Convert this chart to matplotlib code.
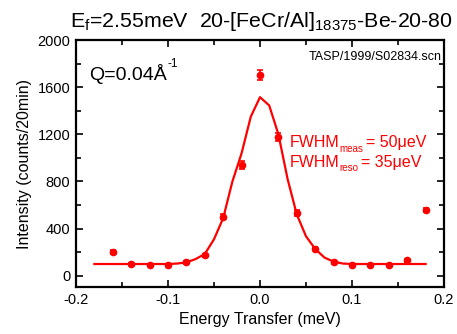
import matplotlib
matplotlib.use("Agg")
import matplotlib.pyplot as plt
from matplotlib.ticker import MultipleLocator, FuncFormatter

plt.rcParams['font.family'] = ['Liberation Sans', 'DejaVu Sans']
plt.rcParams['mathtext.fontset'] = 'custom'
plt.rcParams['mathtext.rm'] = 'Liberation Sans'
plt.rcParams['mathtext.it'] = 'Liberation Sans'
plt.rcParams['axes.unicode_minus'] = False

# Measured scan: energy transfer (meV), counts per 20 min, and errors
energy = [-0.16, -0.14, -0.12, -0.10, -0.08, -0.06, -0.04, -0.02, 0.00,
          0.02, 0.04, 0.06, 0.08, 0.10, 0.12, 0.14, 0.16, 0.18]
counts = [200, 99, 93, 93, 113, 175, 503, 940, 1705,
          1178, 531, 231, 113, 93, 93, 93, 130, 557]
errors = [16, 11, 10, 10, 11, 14, 23, 31, 42,
          35, 23, 16, 11, 10, 10, 10, 12, 20]

# Fitted line shape
fit_energy = [-0.18, -0.17, -0.16, -0.15, -0.14, -0.13, -0.12, -0.11, -0.10,
              -0.09, -0.08, -0.07, -0.06, -0.05, -0.04, -0.03, -0.02, -0.01,
              0.00, 0.01, 0.02, 0.03, 0.04, 0.05, 0.06, 0.07, 0.08, 0.09,
              0.10, 0.11, 0.12, 0.13, 0.14, 0.15, 0.16, 0.17, 0.18]
fit_counts = [100, 100, 100, 100, 100, 100, 100, 100, 100,
              104, 114, 142, 185, 310, 490, 800, 1040, 1350,
              1515, 1445, 1200, 820, 520, 335, 228, 155, 120, 104,
              100, 100, 100, 100, 100, 100, 100, 100, 100]

fwhm_meas = 50
fwhm_reso = 35

fig = plt.figure(figsize=(4.57, 3.34), dpi=100)
ax = fig.add_axes([0.1663, 0.1407, 0.8053, 0.7395])

red = '#ff0000'
ax.plot(fit_energy, fit_counts, color=red, lw=1.6, zorder=2)
ax.errorbar(energy, counts, yerr=errors, fmt='o', color=red, ms=4.5,
            elinewidth=1.2, capsize=2.5, capthick=1.2, zorder=3)

ax.set_xlim(-0.2, 0.2)
ax.set_ylim(-95, 2000)
ax.xaxis.set_major_locator(MultipleLocator(0.1))
ax.xaxis.set_minor_locator(MultipleLocator(0.05))
ax.yaxis.set_major_locator(MultipleLocator(400))
ax.yaxis.set_minor_locator(MultipleLocator(200))
ax.tick_params(which='both', direction='in', top=True, right=True,
               labelsize=10.5, width=1.2, pad=4)
ax.tick_params(which='major', length=5)
ax.tick_params(which='minor', length=3.5)
ax.xaxis.set_major_formatter(FuncFormatter(lambda v, p: f"{v:.1f}"))
for sp in ax.spines.values():
    sp.set_linewidth(1.6)

ax.set_xlabel('Energy Transfer (meV)', fontsize=11.5, labelpad=4)
ax.set_ylabel('Intensity (counts/20min)', fontsize=11.5, labelpad=4)

fig.text(0.573, 0.918, r'E$_\mathregular{f}$=2.55meV  20-[FeCr/Al]$_\mathregular{18375}$-Be-20-80',
         ha='center', va='baseline', fontsize=15.4)

# Q label with raised "-1"
q = ax.text(0.035, 0.84, 'Q=0.04Å', transform=ax.transAxes,
            fontsize=14, va='baseline', ha='left')
ax.annotate('-1', xy=(1, 0), xycoords=q, xytext=(0.5, 12.0),
            textcoords='offset points', fontsize=8.5, va='baseline', ha='left')

ax.text(0.995, 0.955, 'TASP/1999/S02834.scn', transform=ax.transAxes,
        fontsize=9, va='top', ha='right')


def label_with_sub(y, sub, value):
    main = ax.text(0.58, y, 'FWHM', transform=ax.transAxes, fontsize=11.5,
                   color=red, va='baseline', ha='left')
    s = ax.annotate(sub, xy=(1, 0), xycoords=main, xytext=(0, -1.2),
                    textcoords='offset points', fontsize=7, color=red,
                    va='baseline', ha='left')
    ax.annotate(f'= {value}μeV', xy=(1, 0), xycoords=(s, main),
                xytext=(2, 0), textcoords='offset points', fontsize=11.5,
                color=red, va='bottom', ha='left')


label_with_sub(0.565, 'meas', fwhm_meas)
label_with_sub(0.487, 'reso', fwhm_reso)

fig.savefig('out.png', dpi=100)
